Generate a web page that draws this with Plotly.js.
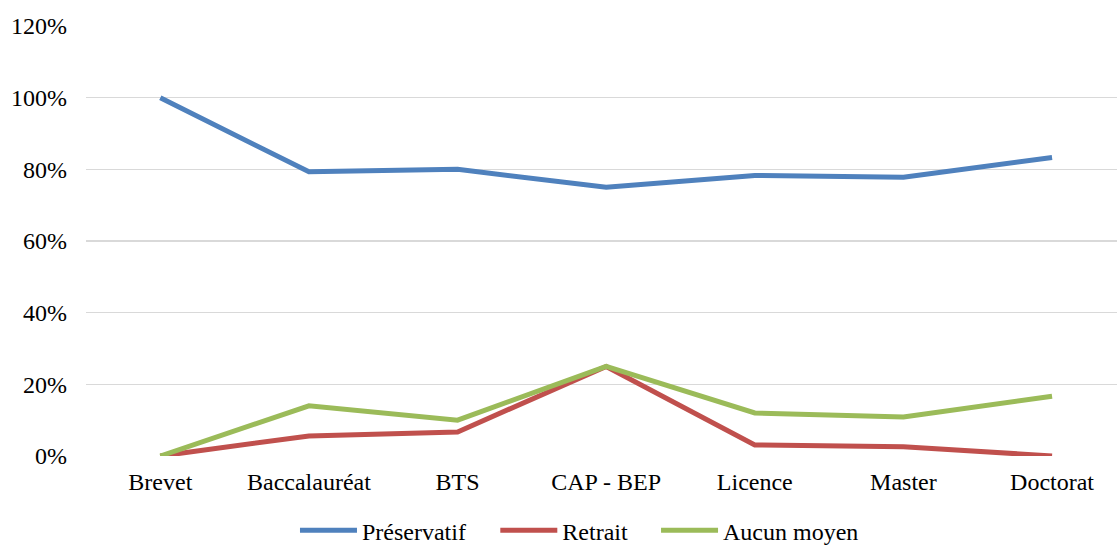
<!DOCTYPE html>
<html>
<head>
<meta charset="utf-8">
<script src="https://cdn.plot.ly/plotly-3.0.1.min.js"></script>
<style>html,body{margin:0;padding:0;background:#fff;}#chart{width:1117px;height:546px;}</style>
</head>
<body>
<div id="chart"></div>
<script>
const categories = ["Brevet", "Baccalauréat", "BTS", "CAP - BEP", "Licence", "Master", "Doctorat"];
const preservatif = [100, 79.3, 80, 75, 78.3, 77.8, 83.3];
const retrait = [0, 5.6, 6.7, 25, 3.1, 2.6, 0];
const aucunMoyen = [0, 14, 10, 25, 12, 10.9, 16.7];
const seriesNames = ["Préservatif", "Retrait", "Aucun moyen"];
const yTickVals = [0, 20, 40, 60, 80, 100, 120];
const yTickText = ["0%", "20%", "40%", "60%", "80%", "100%", "120%"];

const colors = ["#4F81BD", "#C0504D", "#9BBB59"];
const legendIds = ["legend", "legend2", "legend3"];
const data = [preservatif, retrait, aucunMoyen].map((vals, i) => ({
  type: "scatter", mode: "lines", x: categories, y: vals, name: seriesNames[i],
  line: {color: colors[i], width: 5}, cliponaxis: false, legend: legendIds[i]
}));

const FONT = "Times New Roman, Liberation Serif, DejaVu Serif, serif";
function legendAt(x) {
  return {
    orientation: "h", x: x, xanchor: "left", yref: "container", y: 0.028, yanchor: "middle",
    font: {family: FONT, size: 24}, itemwidth: 57, tracegroupgap: 0, bgcolor: "rgba(0,0,0,0)"
  };
}
const layout = {
  width: 1117, height: 546,
  margin: {l: 86, r: 0, t: 26, b: 90, autoexpand: false},
  paper_bgcolor: "#fff", plot_bgcolor: "#fff",
  font: {family: FONT, size: 24, color: "#000"},
  xaxis: {
    type: "category", range: [-0.5, 6.437], showgrid: false, zeroline: false,
    showline: false, ticks: "", ticklabelstandoff: 9, tickfont: {family: FONT, size: 24}
  },
  yaxis: {
    range: [0, 120], tickvals: yTickVals, ticktext: yTickText,
    showgrid: true, gridcolor: "#d9d9d9", gridwidth: 1.5, zeroline: false,
    showline: false, ticks: "", ticklabelstandoff: 18, tickfont: {family: FONT, size: 24}
  },
  legend: legendAt(0.2027),
  legend2: legendAt(0.397),
  legend3: legendAt(0.5529),
  showlegend: true
};
Plotly.newPlot("chart", data, layout, {displayModeBar: false, staticPlot: true});
</script>
</body>
</html>
